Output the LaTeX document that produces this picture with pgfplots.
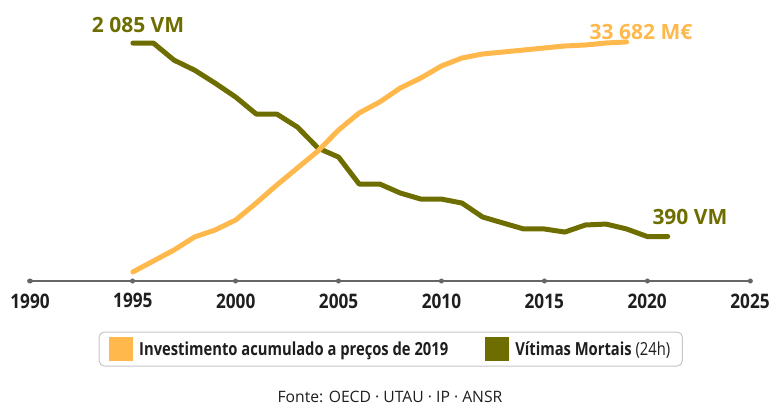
\documentclass[border=0pt]{standalone}
\usepackage{pgfplots}
\pgfplotsset{compat=1.18}
\usepackage{fontspec}
\setmainfont{Open Sans}
\newfontfamily\legfont{Open Sans}[FakeStretch=0.82]
\newfontfamily\tickfont{Open Sans}[FakeStretch=0.86]
\definecolor{invorange}{HTML}{FFB84C}
\definecolor{vmolive}{HTML}{6E6E00}
\definecolor{axgray}{HTML}{666666}
\definecolor{txt}{HTML}{1E1E1E}
\begin{document}
\begin{tikzpicture}
\useasboundingbox (0,0) rectangle (772bp,405bp);
% deaths axis
\begin{axis}[
  scale only axis, width=720bp, height=251bp,
  anchor=south west, at={(30bp,124bp)},
  xmin=1990, xmax=2025, ymin=0, ymax=2200,
  axis y line=none, axis x line=bottom,
  axis line style={-, axgray, line width=2.2bp},
  xtick={1990,1995,...,2025},
  major tick length=0.01bp,
  xtick style={axgray, line width=5bp, line cap=round},
  xticklabel style={font=\fontsize{20bp}{24bp}\tickfont\bfseries, text=txt, yshift=-9bp},
  /pgf/number format/assume math mode=true,
  /pgf/number format/1000 sep={},
  clip=false,
]
\addplot[vmolive, line width=5bp, line join=round, line cap=round] coordinates {
(1995,2085) (1996,2085) (1997,1936) (1998,1848) (1999,1734) (2000,1612)
(2001,1463) (2002,1463) (2003,1349) (2004,1165) (2005,1086) (2006,850)
(2007,850) (2008,771) (2009,718) (2010,718) (2011,683) (2012,561)
(2013,508) (2014,456) (2015,456) (2016,429) (2017,491) (2018,499)
(2019,456) (2020,390) (2021,390)};
\node[text=vmolive, font=\fontsize{21bp}{24bp}\selectfont\bfseries] at (axis cs:1995.25,2243) {2 085 VM};
\node[text=vmolive, font=\fontsize{21bp}{24bp}\selectfont\bfseries] at (axis cs:2022.08,561) {390 VM};
\end{axis}
% investment axis
\begin{axis}[
  scale only axis, width=720bp, height=251bp,
  anchor=south west, at={(30bp,124bp)},
  xmin=1990, xmax=2025, ymin=0, ymax=35366,
  axis lines=none,
  clip=false,
  legend style={at={(axis description cs:0.501,-0.271)}, anchor=center,
    draw=gray!45, line width=1bp, rounded corners=5bp, fill=white,
    inner xsep=10bp, inner ysep=5bp,
    font=\fontsize{18bp}{22bp}\legfont\bfseries, text=txt,
    legend columns=2,
    /tikz/every odd column/.append style={column sep=4bp},
    /tikz/every even column/.append style={column sep=35bp}},
  legend image code/.code={\fill[#1, draw=none, sharp corners] (0bp,-12bp) rectangle (24bp,12bp);},
]
\addplot[invorange, line width=5bp, line join=round, line cap=round] coordinates {
(1995,1268) (1996,2818) (1997,4368) (1998,6200) (1999,7186) (2000,8595)
(2001,10990) (2002,13526) (2003,15922) (2004,18317) (2005,21276) (2006,23671)
(2007,25221) (2008,27194) (2009,28603) (2010,30294) (2011,31421) (2012,31984)
(2013,32266) (2014,32548) (2015,32830) (2016,33112) (2017,33252) (2018,33534)
(2019,33682)};
\addlegendentry{Investimento acumulado a preços de 2019}
\addlegendimage{vmolive}
\addlegendentry{Vítimas Mortais {\mdseries(24h)}}
\node[text=invorange, font=\fontsize{21bp}{24bp}\selectfont\bfseries] at (axis cs:2019.7,35050) {33 682 M€};
\end{axis}
\node[text=txt, font=\fontsize{15.7bp}{18bp}\selectfont] at (390bp,8bp) {Fonte: OECD · UTAU · IP · ANSR};
\end{tikzpicture}
\end{document}
